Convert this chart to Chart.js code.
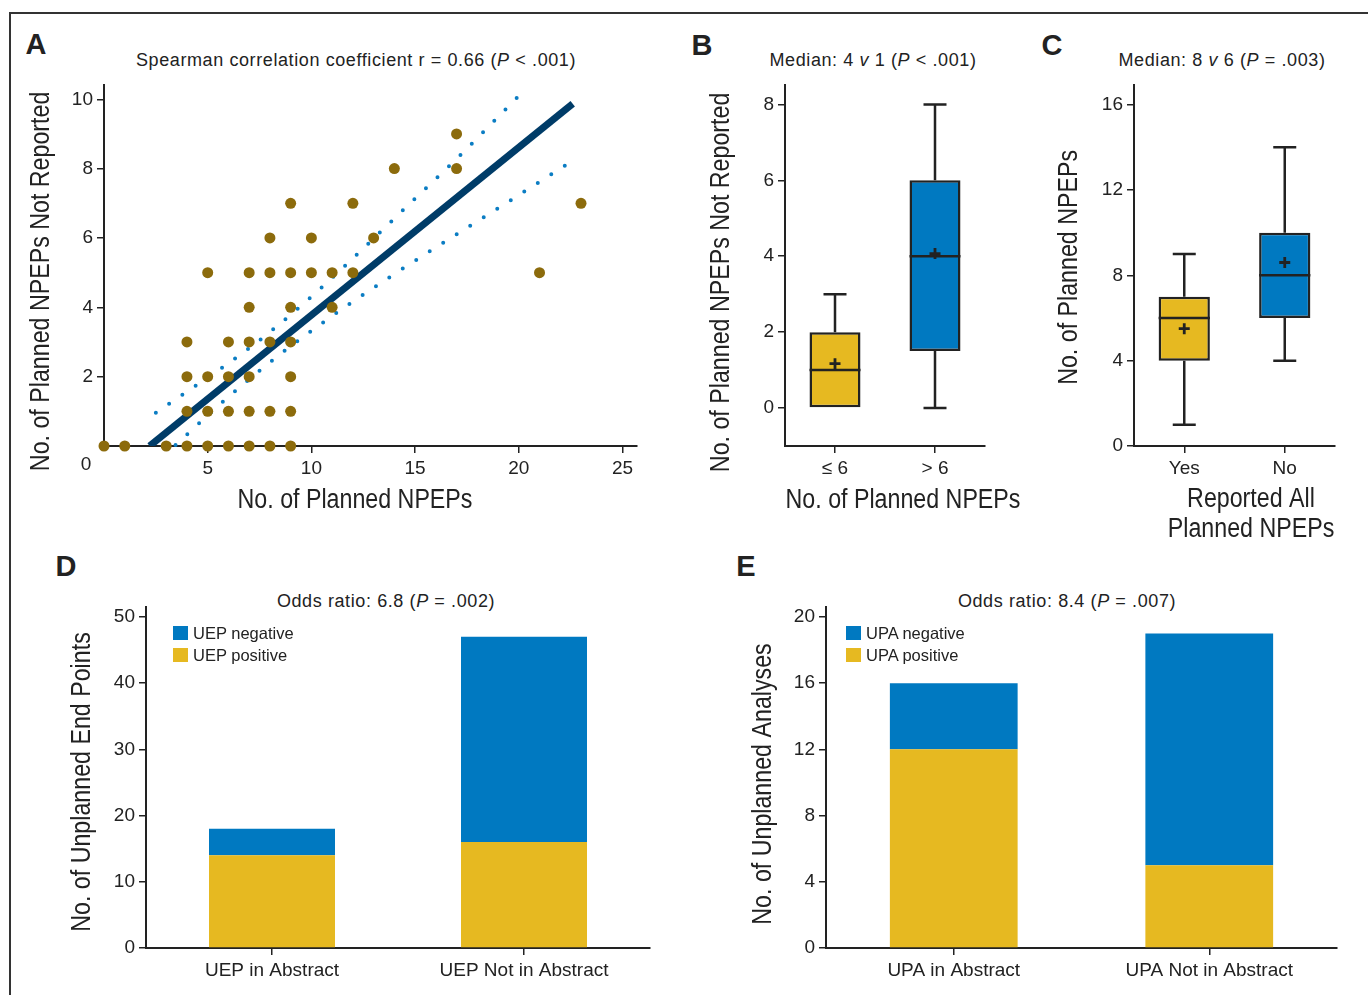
<!DOCTYPE html>
<html>
<head>
<meta charset="utf-8">
<script src="https://cdn.jsdelivr.net/npm/chart.js@4.4.1/dist/chart.umd.min.js"></script>
<style>
  html, body { margin: 0; padding: 0; background: #fff; }
  body { width: 1368px; height: 995px; position: relative; overflow: hidden;
         font-family: "Liberation Sans", Arial, sans-serif; color: #222; }
  .frame { position: absolute; left: 9px; top: 12px; width: 1400px; height: 1000px;
           border-top: 2px solid #333; border-left: 2px solid #333; }
  .panel { position: absolute; }
  .letter { position: absolute; font-weight: bold; font-size: 29px; transform: translate(-50%, -50%); }
  .title { position: absolute; font-size: 18px; letter-spacing: 0.6px; white-space: nowrap; transform: translate(-50%, -50%); }
  .legend-row { position: absolute; font-size: 16.5px; height: 18px; display: flex; align-items: center; white-space: nowrap; }
  .legend-row .sw { width: 15px; height: 14px; margin-right: 5px; }
</style>
</head>
<body>
<div class="frame"></div>

<div class="letter" style="left:36px;top:44px">A</div>
<div class="letter" style="left:702px;top:45px">B</div>
<div class="letter" style="left:1052px;top:45px">C</div>
<div class="letter" style="left:66px;top:566px">D</div>
<div class="letter" style="left:746px;top:566px">E</div>

<div class="title" style="left:356px;top:60px">Spearman correlation coefficient r = 0.66 (<i>P</i> &lt; .001)</div>
<div class="title" style="left:873px;top:60px">Median: 4 <i>v</i> 1 (<i>P</i> &lt; .001)</div>
<div class="title" style="left:1222px;top:60px">Median: 8 <i>v</i> 6 (<i>P</i> = .003)</div>
<div class="title" style="left:386px;top:601px">Odds ratio: 6.8 (<i>P</i> = .002)</div>
<div class="title" style="left:1067px;top:601px">Odds ratio: 8.4 (<i>P</i> = .007)</div>

<canvas id="chartA" class="panel" width="635" height="470" style="left:14px;top:70px"></canvas>
<canvas id="chartB" class="panel" width="335" height="470" style="left:700px;top:70px"></canvas>
<canvas id="chartC" class="panel" width="320" height="480" style="left:1040px;top:70px"></canvas>
<canvas id="chartD" class="panel" width="610" height="400" style="left:50px;top:590px"></canvas>
<canvas id="chartE" class="panel" width="620" height="400" style="left:730px;top:590px"></canvas>

<div id="legendD"></div>
<div id="legendE"></div>

<script>
// colours
const YELLOW = '#E6B921';
const BLUE = '#0079C1';
const OLIVE = '#8C6B0C';
const NAVY = '#003C68';
const DOTBLUE = '#0B7DC3';
const INK = '#222';

// Panel A: planned vs not reported NPEPs
const scatterX = [0, 1, 3, 4, 5, 6, 7, 8, 9,
                  4, 5, 6, 7, 8, 9,
                  4, 5, 6, 7, 9,
                  4, 6, 7, 8, 9,
                  7, 9, 11,
                  5, 7, 8, 9, 10, 11, 12, 21,
                  8, 10, 13,
                  9, 12, 23,
                  14, 17,
                  17];
const scatterY = [0, 0, 0, 0, 0, 0, 0, 0, 0,
                  1, 1, 1, 1, 1, 1,
                  2, 2, 2, 2, 2,
                  3, 3, 3, 3, 3,
                  4, 4, 4,
                  5, 5, 5, 5, 5, 5, 5, 5,
                  6, 6, 6,
                  7, 7, 7,
                  8, 8,
                  9];
const fitX = [2.2, 22.6];
const fitY = [0, 9.87];
const upperX = [2.5, 7.0, 9.4, 11.7, 14.5, 17.3, 20.0];
const upperY = [0.96, 2.82, 3.99, 5.24, 6.85, 8.46, 10.1];
const lowerX = [3.45, 5.74, 8.12, 10.6, 13.8, 17.07, 19.69, 22.29];
const lowerY = [0.03, 1.28, 2.47, 3.58, 4.88, 6.13, 7.12, 8.11];
const ticksAx = [5, 10, 15, 20, 25];
const ticksAy = [2, 4, 6, 8, 10];

// Panel B: box plots by planned NPEPs
const groupsB = ['\u2264 6', '> 6'];
const minB = [0, 0];
const q1B = [0, 1.5];
const medB = [1, 4];
const q3B = [2, 6];
const maxB = [3, 8];
const meanB = [1.17, 4.07];
const ticksB = [0, 2, 4, 6, 8];

// Panel C: box plots by reporting
const groupsC = ['Yes', 'No'];
const minC = [1, 4];
const q1C = [4, 6];
const medC = [6, 8];
const q3C = [7, 10];
const maxC = [9, 14];
const meanC = [5.5, 8.6];
const ticksC = [0, 4, 8, 12, 16];

// Panel D: unplanned end points
const groupsD = ['UEP in Abstract', 'UEP Not in Abstract'];
const uepPositive = [14, 16];
const uepNegative = [4, 31];
const ticksD = [0, 10, 20, 30, 40, 50];

// Panel E: unplanned analyses
const groupsE = ['UPA in Abstract', 'UPA Not in Abstract'];
const upaPositive = [12, 5];
const upaNegative = [4, 14];
const ticksE = [0, 4, 8, 12, 16, 20];

const TICK_FONT = { family: '"Liberation Sans", Arial, sans-serif', size: 19 };

function zip(xs, ys) {
  return xs.map((x, i) => ({ x: x, y: ys[i] }));
}

function axisStyle(ticks, size, horizontal) {
  return {
    afterBuildTicks: s => { if (ticks) s.ticks = ticks.map(v => ({ value: v })); },
    afterFit: s => { if (horizontal) s.height = size; else s.width = size; },
    border: { display: true, color: INK, width: 2 },
    grid: { drawOnChartArea: false, drawTicks: true, tickLength: 7, color: INK, lineWidth: 1.5, offset: false },
    ticks: { color: INK, font: TICK_FONT, padding: 4, maxRotation: 0, autoSkip: false }
  };
}

const baseOptions = {
  responsive: false,
  animation: false,
  events: [],
  plugins: { legend: { display: false }, tooltip: { enabled: false } }
};

// condensed axis titles, placed relative to the chart area
function titlePlugin(items) {
  return {
    id: 'axisTitles',
    afterDraw(chart) {
      const { ctx, chartArea: a } = chart;
      items.forEach(t => {
        const lines = [].concat(t.text);
        ctx.save();
        ctx.translate(a.left + t.dx, a.top + t.dy);
        if (t.vertical) ctx.rotate(-Math.PI / 2);
        ctx.scale(0.86, 1);
        ctx.font = '27px "Liberation Sans", Arial, sans-serif';
        ctx.fillStyle = INK;
        ctx.textAlign = 'center';
        ctx.textBaseline = 'middle';
        lines.forEach((line, i) => ctx.fillText(line, 0, i * 30));
        ctx.restore();
      });
    }
  };
}

// the lone "0" at the corner of panel A
const zeroLabel = {
  id: 'zeroLabel',
  afterDraw(chart) {
    const { ctx, scales: { x, y } } = chart;
    ctx.save();
    ctx.font = '19px "Liberation Sans", Arial, sans-serif';
    ctx.fillStyle = INK;
    ctx.textAlign = 'center';
    ctx.textBaseline = 'middle';
    ctx.fillText('0', x.getPixelForValue(0) - 18, y.getPixelForValue(0) + 19);
    ctx.restore();
  }
};

// whiskers, median and mean for the floating-bar boxes
function boxPlugin(mins, meds, maxs, means) {
  return {
    id: 'boxParts',
    afterDatasetsDraw(chart) {
      const { ctx, scales: { y } } = chart;
      const bars = chart.getDatasetMeta(0).data;
      ctx.save();
      ctx.strokeStyle = INK;
      ctx.lineWidth = 2.5;
      bars.forEach((bar, i) => {
        const cx = bar.x, half = bar.width / 2;
        const top = Math.min(bar.y, bar.base), bottom = Math.max(bar.y, bar.base);
        const yMax = y.getPixelForValue(maxs[i]);
        const yMin = y.getPixelForValue(mins[i]);
        const yMed = y.getPixelForValue(meds[i]);
        const yMean = y.getPixelForValue(means[i]);
        ctx.beginPath();
        ctx.moveTo(cx, top); ctx.lineTo(cx, yMax);
        ctx.moveTo(cx - 11.5, yMax); ctx.lineTo(cx + 11.5, yMax);
        if (yMin > bottom + 1) {
          ctx.moveTo(cx, bottom); ctx.lineTo(cx, yMin);
          ctx.moveTo(cx - 11.5, yMin); ctx.lineTo(cx + 11.5, yMin);
        }
        ctx.moveTo(cx - half, yMed); ctx.lineTo(cx + half, yMed);
        ctx.stroke();
        ctx.beginPath();
        ctx.lineWidth = 2.8;
        ctx.moveTo(cx - 5.5, yMean); ctx.lineTo(cx + 5.5, yMean);
        ctx.moveTo(cx, yMean - 5.5); ctx.lineTo(cx, yMean + 5.5);
        ctx.stroke();
        ctx.lineWidth = 2.5;
      });
      ctx.restore();
    }
  };
}

function initScatter() {
  new Chart(document.getElementById('chartA'), {
    type: 'scatter',
    data: {
      datasets: [
        { data: zip(scatterX, scatterY), backgroundColor: OLIVE, borderWidth: 0, pointRadius: 5.5, clip: false, order: 0 },
        { type: 'line', data: zip(fitX, fitY), borderColor: NAVY, borderWidth: 7, pointRadius: 0, fill: false, order: 2 },
        { type: 'line', data: zip(upperX, upperY), borderColor: DOTBLUE, borderWidth: 4, borderDash: [0, 16],
          borderCapStyle: 'round', cubicInterpolationMode: 'monotone', pointRadius: 0, fill: false, clip: false, order: 1 },
        { type: 'line', data: zip(lowerX, lowerY), borderColor: DOTBLUE, borderWidth: 4, borderDash: [0, 16],
          borderCapStyle: 'round', cubicInterpolationMode: 'monotone', pointRadius: 0, fill: false, clip: false, order: 1 }
      ]
    },
    options: Object.assign({}, baseOptions, {
      layout: { padding: { top: 13, right: 12, left: 0, bottom: 0 } },
      scales: {
        x: Object.assign(axisStyle(ticksAx, 94, true), { type: 'linear', min: 0, max: 25.7 }),
        y: Object.assign(axisStyle(ticksAy, 90, false), { min: 0, max: 10.4 })
      }
    }),
    plugins: [zeroLabel, titlePlugin([
      { text: 'No. of Planned NPEPs Not Reported', vertical: true, dx: -62, dy: 196 },
      { text: 'No. of Planned NPEPs', dx: 251, dy: 415 }
    ])]
  });
}

function initBox(id, groups, mins, q1s, meds, q3s, maxs, means, ticks, yMin, yMax, yWidth, xHeight, padRight, titles) {
  new Chart(document.getElementById(id), {
    type: 'bar',
    data: {
      labels: groups,
      datasets: [{
        data: q1s.map((q, i) => [q, q3s[i]]),
        backgroundColor: [YELLOW, BLUE],
        borderColor: INK,
        borderWidth: 2.5,
        borderSkipped: false,
        barPercentage: 0.51,
        categoryPercentage: 1
      }]
    },
    options: Object.assign({}, baseOptions, {
      layout: { padding: { top: 13, right: padRight, left: 0, bottom: 0 } },
      scales: {
        x: axisStyle(null, xHeight, true),
        y: Object.assign(axisStyle(ticks, yWidth, false), { min: yMin, max: yMax })
      }
    }),
    plugins: [boxPlugin(mins, meds, maxs, means), titlePlugin(titles)]
  });
}

function initStacked(id, groups, positive, negative, names, ticks, yMax, padRight, titles) {
  new Chart(document.getElementById(id), {
    type: 'bar',
    data: {
      labels: groups,
      datasets: [
        { label: names[1], data: positive, backgroundColor: YELLOW, barPercentage: 0.5, categoryPercentage: 1 },
        { label: names[0], data: negative, backgroundColor: BLUE, barPercentage: 0.5, categoryPercentage: 1 }
      ]
    },
    options: Object.assign({}, baseOptions, {
      layout: { padding: { top: 17, right: padRight, left: 0, bottom: 0 } },
      scales: {
        x: Object.assign(axisStyle(null, 42, true), { stacked: true }),
        y: Object.assign(axisStyle(ticks, 96, false), { stacked: true, min: 0, max: yMax })
      }
    }),
    plugins: [titlePlugin(titles)]
  });
}

function buildLegend(id, names, left, top) {
  const box = document.getElementById(id);
  [BLUE, YELLOW].forEach((c, i) => {
    const row = document.createElement('div');
    row.className = 'legend-row';
    row.style.left = left + 'px';
    row.style.top = (top + i * 22) + 'px';
    row.innerHTML = '<span class="sw" style="background:' + c + '"></span>' + names[i];
    box.appendChild(row);
  });
}

document.addEventListener('DOMContentLoaded', function() {
  initScatter();
  initBox('chartB', groupsB, minB, q1B, medB, q3B, maxB, meanB, ticksB, -1, 8.5, 85, 94, 50, [
    { text: 'No. of Planned NPEPs Not Reported', vertical: true, dx: -63, dy: 197 },
    { text: 'No. of Planned NPEPs', dx: 118, dy: 415 }
  ]);
  initBox('chartC', groupsC, minC, q1C, medC, q3C, maxC, meanC, ticksC, 0, 16.9, 94, 104, 25, [
    { text: 'No. of Planned NPEPs', vertical: true, dx: -64, dy: 182 },
    { text: ['Reported All', 'Planned NPEPs'], dx: 117, dy: 414 }
  ]);
  initStacked('chartD', groupsD, uepPositive, uepNegative, ['UEP negative', 'UEP positive'], ticksD, 51.5, 10, [
    { text: 'No. of Unplanned End Points', vertical: true, dx: -63, dy: 175 }
  ]);
  initStacked('chartE', groupsE, upaPositive, upaNegative, ['UPA negative', 'UPA positive'], ticksE, 20.6, 13, [
    { text: 'No. of Unplanned Analyses', vertical: true, dx: -62, dy: 177 }
  ]);
  buildLegend('legendD', ['UEP negative', 'UEP positive'], 173, 624);
  buildLegend('legendE', ['UPA negative', 'UPA positive'], 846, 624);
});
</script>
</body>
</html>
